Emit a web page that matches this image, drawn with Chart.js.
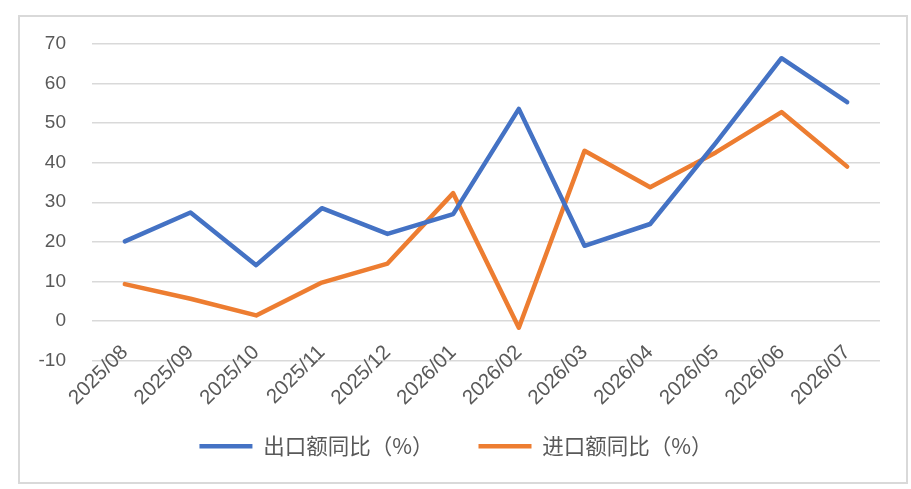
<!DOCTYPE html>
<html>
<head>
<meta charset="utf-8">
<script src="https://cdn.jsdelivr.net/npm/chart.js@4.4.1/dist/chart.umd.min.js"></script>
<style>
  html, body { margin: 0; padding: 0; background: #fff; }
  #box {
    position: absolute; left: 18px; top: 15px;
    width: 886px; height: 465px;
    border: 2px solid #d9d9d9;
  }
</style>
</head>
<body>
<div id="box"><canvas id="tradeChart"></canvas></div>
<script>
// monthly year-on-year change, %
var months = ['2025/08', '2025/09', '2025/10', '2025/11', '2025/12', '2026/01',
              '2026/02', '2026/03', '2026/04', '2026/05', '2026/06', '2026/07'];
var exportYoY = [20.1, 27.4, 14.1, 28.5, 22.0, 27.0, 53.6, 19.0, 24.5, 45.0, 66.4, 55.3];
var importYoY = [9.3, 5.6, 1.4, 9.7, 14.5, 32.3, -1.7, 43.0, 33.8, 42.6, 52.8, 39.0];
var yTicks = [-10, 0, 10, 20, 30, 40, 50, 60, 70];

var fontFamily = '"Liberation Sans", "Open Sans", sans-serif';

var ctx = document.getElementById('tradeChart').getContext('2d');
var myChart = new Chart(ctx, {
    type: 'line',
    data: {
        labels: months,
        datasets: [{
            label: '出口额同比（%）',
            data: exportYoY,
            borderColor: '#4472C4',
            backgroundColor: '#4472C4',
            borderWidth: 4.5,
            borderCapStyle: 'round',
            borderJoinStyle: 'round',
            pointRadius: 0,
            tension: 0
        }, {
            label: '进口额同比（%）',
            data: importYoY,
            borderColor: '#ED7D31',
            backgroundColor: '#ED7D31',
            borderWidth: 4.5,
            borderCapStyle: 'round',
            borderJoinStyle: 'round',
            pointRadius: 0,
            tension: 0
        }]
    },
    options: {
        responsive: true,
        maintainAspectRatio: false,
        animation: false,
        layout: { padding: { left: 12, right: 26, top: 27, bottom: 15 } },
        plugins: {
            tooltip: { enabled: false },
            legend: {
                position: 'bottom',
                // empty title only reserves room for the rotated month labels
                title: { display: true, text: ' ', font: { size: 10, lineHeight: 1 }, padding: { top: 0, bottom: 20 } },
                labels: {
                    usePointStyle: true,
                    pointStyle: 'line',
                    pointStyleWidth: 53,
                    padding: 45,
                    color: '#595959',
                    font: { family: '"Noto Sans CJK SC", sans-serif', size: 21.5 }
                }
            }
        },
        scales: {
            x: {
                position: { y: -10 },
                offset: true,
                grid: { display: false },
                border: { display: false },
                ticks: {
                    minRotation: 45,
                    maxRotation: 45,
                    autoSkip: false,
                    padding: -28,
                    color: '#595959',
                    font: { family: fontFamily, size: 20.5 }
                },
                // labels hang off the -10 line, so the axis needs no room of its own
                afterFit: function (scale) { scale.height = 0; }
            },
            y: {
                min: -10,
                max: 70,
                afterBuildTicks: function (scale) {
                    scale.ticks = yTicks.map(function (v) { return { value: v }; });
                },
                grid: { color: '#d9d9d9', lineWidth: 1.5, drawTicks: false },
                border: { display: false },
                ticks: { padding: 26, color: '#595959', font: { family: fontFamily, size: 19 } },
                afterFit: function (scale) {
                    scale.width = 60;
                    // tick padding would otherwise push the plot top down
                    scale.paddingTop = 0;
                    scale.paddingBottom = 0;
                }
            }
        }
    }
});
</script>
</body>
</html>
